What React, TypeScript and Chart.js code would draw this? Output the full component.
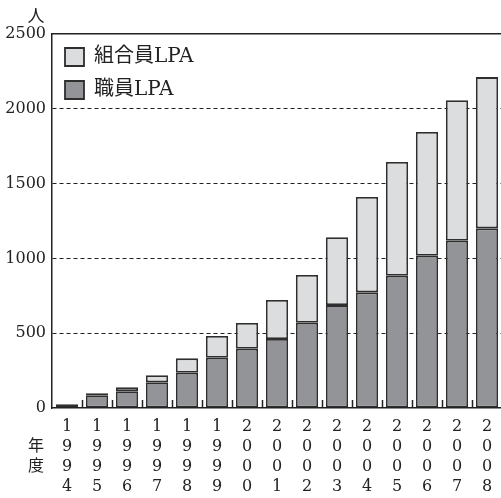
import React, { useEffect, useRef } from "react";
import { Chart, registerables } from "chart.js";

Chart.register(...registerables);

const years = ["1994","1995","1996","1997","1998","1999","2000","2001","2002","2003","2004","2005","2006","2007","2008"];
const staffLPA = [20, 85, 112, 172, 236, 336, 396, 461, 570, 688, 773, 884, 1018, 1118, 1201];
const unionLPA = [5, 13, 26, 47, 96, 145, 172, 261, 319, 453, 637, 760, 827, 939, 1011];
const yTicks = [0, 500, 1000, 1500, 2000, 2500];

const FONT = "'DejaVu Serif', 'Noto Sans CJK JP', serif";
const INK = "#222";

const extraText = {
  id: "extraText",
  afterDatasetsDraw(chart: any) {
    const { ctx, chartArea } = chart;
    const xs = chart.scales.x;
    ctx.save();
    ctx.strokeStyle = INK;
    ctx.lineWidth = 1.5;
    ctx.beginPath();
    for (let i = 1; i < xs.ticks.length; i++) {
      const px = Math.round((xs.getPixelForTick(i - 1) + xs.getPixelForTick(i)) / 2) + 0.5;
      ctx.moveTo(px, chartArea.bottom);
      ctx.lineTo(px, chartArea.bottom - 8);
    }
    ctx.stroke();
    ctx.restore();
  },
  afterDraw(chart: any) {
    const { ctx, chartArea } = chart;
    ctx.save();
    ctx.fillStyle = INK;
    ctx.font = `17px ${FONT}`;
    ctx.textAlign = "center";
    ctx.textBaseline = "middle";
    ctx.fillText("人", chartArea.left - 16, chartArea.top - 16);
    ctx.font = `16px ${FONT}`;
    ctx.fillText("年", chartArea.left - 16, chartArea.bottom + 39);
    ctx.fillText("度", chartArea.left - 16, chartArea.bottom + 59);
    ctx.restore();
  },
};

export default function App() {
  const ref = useRef<HTMLCanvasElement>(null);
  useEffect(() => {
    const chart = new Chart(ref.current!, {
      type: "bar",
      data: {
        labels: years.map((y) => y.split("")),
        datasets: [
          {
            label: "職員LPA",
            data: staffLPA,
            backgroundColor: "#939497",
            borderColor: "#2e2e2e",
            borderWidth: 1.8,
            borderSkipped: false,
          },
          {
            label: "組合員LPA",
            data: unionLPA,
            backgroundColor: "#dcdddf",
            borderColor: "#2e2e2e",
            borderWidth: 1.8,
            borderSkipped: false,
          },
        ],
      },
      options: {
        responsive: false,
        animation: false,
        devicePixelRatio: 1,
        categoryPercentage: 1,
        barPercentage: 0.74,
        layout: { padding: { top: 34, right: 1, left: 0, bottom: 0 } },
        plugins: {
          legend: {
            position: "chartArea",
            align: "start",
            reverse: true,
            title: {
              display: true,
              text: "",
              font: { size: 10, lineHeight: 1 },
              padding: { top: 24, bottom: 0 },
            },
            labels: {
              font: { family: FONT, size: 20 },
              color: INK,
              boxWidth: 19,
              boxHeight: 18,
              padding: 13,
            },
          },
          tooltip: { enabled: false },
        },
        scales: {
          x: {
            stacked: true,
            grid: { display: false, drawTicks: false },
            border: { display: true, color: INK, width: 1.5 },
            ticks: {
              font: { family: FONT, size: 16, lineHeight: "20px" },
              color: INK,
              padding: 9,
              maxRotation: 0,
              autoSkip: false,
            },
            afterFit: (s: any) => {
              s.height = 90;
            },
          },
          xTop: {
            type: "category",
            position: "top",
            grid: { display: false, drawTicks: false },
            ticks: { display: false },
            border: { display: true, color: INK, width: 1.5 },
            afterFit: (s: any) => {
              s.height = 0;
            },
          },
          y: {
            stacked: true,
            min: 0,
            max: 2500,
            afterBuildTicks: (s: any) => {
              s.ticks = yTicks.map((v) => ({ value: v }));
            },
            grid: {
              drawTicks: false,
              color: (c: any) =>
                c.tick && (c.tick.value === 0 || c.tick.value === 2500) ? "rgba(0,0,0,0)" : INK,
              lineWidth: 1,
            },
            border: { display: true, color: INK, width: 1.5, dash: [4, 3] },
            ticks: {
              font: { family: FONT, size: 16 },
              color: INK,
              padding: 6,
              callback: (v: any) => String(v),
            },
            afterFit: (s: any) => {
              s.width = 52;
            },
          },
        },
      },
      plugins: [extraText],
    } as any);
    return () => chart.destroy();
  }, []);
  return (
    <div style={{ position: "absolute", left: 0, top: 0, width: 501, height: 498, overflow: "hidden", background: "#fff" }}>
      <canvas ref={ref} width={503} height={498} style={{ width: 503, height: 498, display: "block" }} />
    </div>
  );
}
